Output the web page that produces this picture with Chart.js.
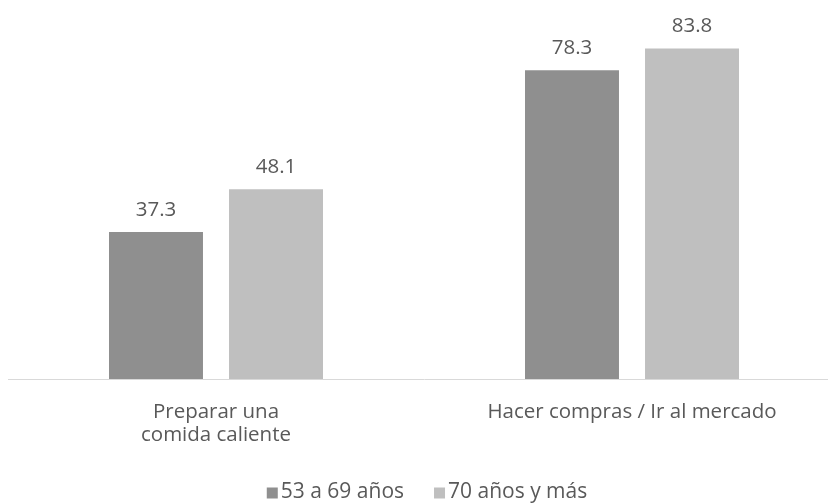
<!DOCTYPE html>
<html>
<head>
<meta charset="utf-8">
<script src="https://cdn.jsdelivr.net/npm/chart.js@4/dist/chart.umd.min.js"></script>
<style>
  html, body { margin: 0; padding: 0; background: #fff; overflow: hidden; }
  /* plot runs past the right edge like the original, so the canvas is a bit wider than the window */
  #wrap { width: 840px; height: 504px; }
</style>
</head>
<body>
<div id="wrap"><canvas id="chart"></canvas></div>
<script>
"use strict";

// Chart data
const categories = [['Preparar una', 'comida caliente'], 'Hacer compras / Ir al mercado'];
const seriesNames = ['53 a 69 años', '70 años y más'];
const valuesYounger = [37.3, 78.3];
const valuesOlder = [48.1, 83.8];

var fontFamily = "'Open Sans', 'Noto Sans', sans-serif";
var fontSize = 20.5;
var textColor = '#595959';
var seriesColors = ['#8f8f8f', '#bfbfbf'];

// draws the value above each bar
var valueLabels = {
    id: 'valueLabels',
    afterDatasetsDraw: function (chart) {
        var ctx = chart.ctx;
        ctx.save();
        ctx.font = fontSize + 'px ' + fontFamily;
        ctx.fillStyle = textColor;
        ctx.textAlign = 'center';
        ctx.textBaseline = 'bottom';
        chart.data.datasets.forEach(function (ds, i) {
            chart.getDatasetMeta(i).data.forEach(function (bar, j) {
                ctx.fillText(ds.data[j].toFixed(1), bar.x, bar.y - 12);
            });
        });
        ctx.restore();
    }
};

// small legend at the bottom, box close to the text like the original
var bottomLegend = {
    id: 'bottomLegend',
    afterDraw: function (chart, args, opts) {
        var ctx = chart.ctx;
        var box = 11, gapText = 3, gapItem = 30;
        ctx.save();
        ctx.font = opts.fontSize + 'px ' + fontFamily;
        ctx.textBaseline = 'middle';
        ctx.textAlign = 'left';
        var items = chart.data.datasets.map(function (ds) {
            return { text: ds.label, color: ds.backgroundColor, w: ctx.measureText(ds.label).width };
        });
        var total = 0;
        items.forEach(function (it, i) {
            total += box + gapText + it.w + (i ? gapItem : 0);
        });
        var x = opts.centerX - total / 2;
        var y = opts.y;
        items.forEach(function (it) {
            ctx.fillStyle = it.color;
            ctx.fillRect(x, y - box / 2 + 1, box, box);
            ctx.fillStyle = textColor;
            ctx.fillText(it.text, x + box + gapText, y);
            x += box + gapText + it.w + gapItem;
        });
        ctx.restore();
    }
};

var ctx = document.getElementById('chart');
var chart = new Chart(ctx, {
    type: 'bar',
    data: {
        labels: categories,
        datasets: [
            {
                label: seriesNames[0],
                data: valuesYounger,
                backgroundColor: seriesColors[0],
                categoryPercentage: 0.577,
                barPercentage: 0.783
            },
            {
                label: seriesNames[1],
                data: valuesOlder,
                backgroundColor: seriesColors[1],
                categoryPercentage: 0.577,
                barPercentage: 0.783
            }
        ]
    },
    options: {
        responsive: true,
        maintainAspectRatio: false,
        animation: false,
        layout: {
            padding: { left: 8, right: 0, top: 24, bottom: 35 }
        },
        plugins: {
            legend: { display: false },
            tooltip: { enabled: false },
            bottomLegend: { centerX: 427, y: 492, fontSize: 21 }
        },
        scales: {
            x: {
                grid: { display: false, drawTicks: false },
                border: { color: '#d9d9d9', width: 1 },
                ticks: {
                    color: textColor,
                    font: { family: fontFamily, size: fontSize, lineHeight: 1.12 },
                    padding: 22,
                    maxRotation: 0
                }
            },
            y: {
                display: false,
                min: 0,
                max: 90
            }
        }
    },
    plugins: [valueLabels, bottomLegend]
});
</script>
</body>
</html>
